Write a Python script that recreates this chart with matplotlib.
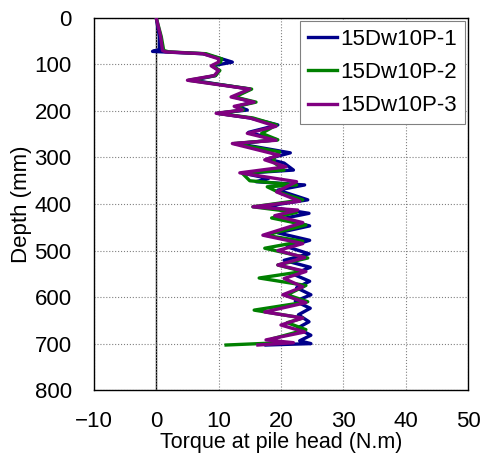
import matplotlib
matplotlib.use("Agg")
import matplotlib.pyplot as plt

plt.rcParams['font.family'] = ['Liberation Sans', 'DejaVu Sans']

# (depth mm, torque N.m) at turning points
p1_pts = [(0, 0.0), (40, 0.5), (68, 0.5), (72, -0.6), (73, 1.0), (77, 7.5), (88, 10.5),
          (95, 12.2), (103, 9.0), (113, 10.0), (124, 9.5), (134, 5.8), (153, 15.0),
          (170, 12.5), (181, 15.5), (190, 13.0), (198, 14.6), (205, 9.8), (215, 15.0),
          (230, 19.5), (246, 14.8), (262, 19.4), (270, 13.0), (290, 21.5), (303, 17.8),
          (312, 20.5), (327, 22.0), (334, 14.0), (345, 18.0), (352, 16.0), (359, 23.8),
          (370, 19.5), (391, 24.3), (405, 17.5), (420, 24.5), (432, 20.0), (447, 24.6),
          (462, 19.5), (478, 24.6), (492, 21.0), (507, 24.5), (521, 20.5), (536, 24.7),
          (551, 22.0), (566, 24.6), (580, 22.5), (595, 24.8), (609, 22.3), (624, 24.7),
          (638, 22.8), (653, 24.5), (667, 22.6), (682, 24.8), (694, 23.0), (700, 24.8),
          (703, 17.6)]

p2_pts = [(0, 0.0), (40, 0.8), (70, 1.2), (73, 2.0), (77, 8.0), (88, 10.5), (95, 10.3),
          (103, 9.0), (113, 10.2), (124, 9.5), (134, 5.2), (153, 15.3), (170, 12.6),
          (181, 16.0), (190, 13.0), (198, 14.0), (205, 9.8), (215, 15.5), (230, 19.3),
          (248, 16.9), (262, 19.5), (270, 12.5), (288, 19.8), (303, 18.8), (312, 19.0),
          (327, 20.5), (334, 13.8), (350, 15.0), (359, 22.5), (363, 17.8), (374, 19.5),
          (391, 23.5), (406, 15.5), (418, 22.5), (430, 18.5), (445, 24.0), (467, 17.5),
          (480, 23.5), (495, 17.4), (516, 24.3), (531, 19.5), (545, 23.5), (559, 16.5),
          (575, 24.0), (595, 21.0), (610, 24.3), (628, 15.7), (645, 23.5), (655, 21.0),
          (670, 24.0), (690, 18.5), (698, 20.0), (703, 11.2)]

p3_pts = [(0, 0.0), (40, 0.7), (70, 1.0), (73, 1.5), (77, 7.5), (88, 10.0), (95, 10.0),
          (103, 8.8), (113, 10.0), (124, 9.3), (134, 5.0), (153, 15.0), (170, 12.0),
          (181, 15.7), (190, 12.5), (198, 13.8), (205, 9.6), (215, 15.0), (233, 19.2),
          (248, 14.6), (263, 19.2), (270, 12.2), (295, 19.7), (305, 17.4), (320, 20.8),
          (333, 13.4), (352, 22.5), (374, 19.3), (394, 23.0), (406, 15.5), (413, 22.7),
          (425, 19.0), (440, 23.5), (467, 17.1), (485, 23.5), (500, 19.5), (515, 23.8),
          (531, 19.5), (545, 24.0), (560, 20.5), (578, 23.5), (595, 20.3), (612, 24.0),
          (632, 17.4), (645, 23.5), (660, 20.0), (675, 23.8), (692, 17.6), (698, 22.0),
          (703, 16.3)]

series = [("15Dw10P-1", p1_pts, "#00008B"),
          ("15Dw10P-2", p2_pts, "#008000"),
          ("15Dw10P-3", p3_pts, "#800080")]

x_ticks = [-10, 0, 10, 20, 30, 40, 50]
y_ticks = [0, 100, 200, 300, 400, 500, 600, 700, 800]

fig = plt.figure(figsize=(4.84, 4.59), dpi=100)
ax = fig.add_axes([0.194, 0.150, 0.773, 0.811])

ax.axvline(0, color='black', lw=1.0, zorder=1)
for name, pts, col in series:
    d = [p[0] for p in pts]
    t = [p[1] for p in pts]
    ax.plot(t, d, color=col, lw=2.4, label=name, zorder=3)

ax.set_xlim(-10, 50)
ax.set_ylim(800, 0)
ax.set_xticks(x_ticks)
ax.set_yticks(y_ticks)
ax.set_xticklabels([str(v).replace('-', '\u2212') for v in x_ticks])
ax.tick_params(labelsize=16, length=0)
ax.tick_params(axis='y', pad=16)
ax.tick_params(axis='x', pad=15)
ax.grid(True, color='gray', ls=':', lw=0.8)
for s in ax.spines.values():
    s.set_linewidth(1.0)

ax.set_xlabel("Torque at pile head (N.m)", fontsize=15.5, labelpad=0)
ax.set_ylabel("Depth (mm)", fontsize=16, labelpad=2)

leg = ax.legend(loc='upper right', fontsize=16, fancybox=False, framealpha=1,
                edgecolor='gray', handlelength=1.3, handletextpad=0.15,
                borderaxespad=0.15, borderpad=0.35, labelspacing=0.55)
leg.get_frame().set_linewidth(0.8)

fig.savefig("out.png", dpi=100)
